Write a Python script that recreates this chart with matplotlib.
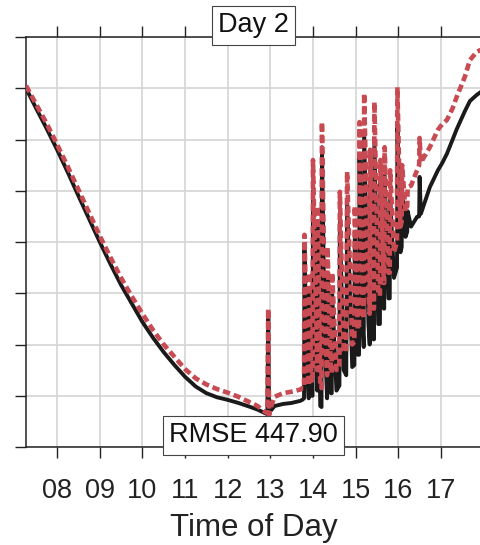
import matplotlib
matplotlib.use('Agg')
import matplotlib.pyplot as plt

# time of day (hours) and the two series
hours = [7.27, 7.5, 7.75, 8.0, 8.25, 8.5, 8.75, 9.0, 9.25, 9.5, 9.75, 10.0,
         10.25, 10.5, 10.75, 11.0, 11.25, 11.5, 11.75, 12.0, 12.25, 12.5,
         12.7, 12.85, 12.93, 12.95, 12.97, 13.0, 13.1, 13.3, 13.5, 13.7,
         13.75, 13.79, 13.80, 13.86, 13.90, 13.91, 13.96, 13.99, 14.00, 14.07,
         14.10, 14.11, 14.17, 14.20, 14.21, 14.28, 14.33, 14.34, 14.42, 14.44,
         14.45, 14.55, 14.62, 14.63, 14.72, 14.78, 14.80, 14.92, 14.97, 14.98,
         15.05, 15.08, 15.09, 15.15, 15.19, 15.20, 15.30, 15.33, 15.34, 15.42,
         15.43, 15.44, 15.53, 15.57, 15.58, 15.66, 15.67, 15.68, 15.77, 15.80,
         15.81, 15.90, 15.97, 15.98, 16.05, 16.08, 16.09, 16.17, 16.21, 16.22,
         16.30, 16.44, 16.49, 16.50, 16.53, 16.74, 16.93, 17.03, 17.14, 17.27,
         17.37, 17.56, 17.68, 17.84, 17.94]

measured = [7.0, 6.62, 6.22, 5.8, 5.36, 4.9, 4.45, 4.0, 3.57, 3.16, 2.8, 2.44,
            2.13, 1.85, 1.6, 1.37, 1.18, 1.05, 0.97, 0.92, 0.86, 0.79,
            0.73, 0.67, 0.64, 2.6, 0.66, 0.7, 0.8, 0.84, 0.86, 0.9,
            0.92, 0.95, 3.85, 1.6, 0.95, 3.0, 1.0, 1.0, 5.0, 2.2,
            1.1, 4.3, 0.8, 0.78, 5.85, 2.0, 0.95, 3.4, 1.05, 1.05,
            3.0, 1.1, 1.2, 4.4, 1.5, 1.4, 4.8, 1.56, 1.6, 4.2,
            1.8, 1.8, 5.7, 2.6, 1.95, 6.1, 2.4, 2.0, 5.2, 2.1,
            2.1, 6.0, 2.4, 2.4, 5.2, 2.7, 2.7, 5.3, 2.9, 2.9,
            4.9, 3.3, 3.5, 6.3, 3.8, 3.9, 5.0, 4.1, 4.2, 4.6,
            4.3, 4.49, 4.5, 5.27, 4.55, 5.07, 5.4, 5.54, 5.72, 5.99,
            6.2, 6.55, 6.75, 6.87, 6.93]

predicted = [7.05, 6.7, 6.32, 5.9, 5.47, 5.02, 4.57, 4.12, 3.7, 3.3, 2.94, 2.6,
             2.28, 2.0, 1.76, 1.52, 1.34, 1.22, 1.13, 1.06, 0.98, 0.88,
             0.8, 0.7, 0.66, 2.7, 0.62, 0.75, 0.98, 1.05, 1.08, 1.12,
             1.15, 1.15, 4.14, 2.0, 1.2, 3.4, 1.3, 1.25, 5.6, 2.7,
             1.5, 4.7, 1.2, 1.15, 6.34, 2.5, 1.4, 3.9, 1.45, 1.45,
             3.4, 1.5, 1.6, 4.98, 1.9, 1.85, 5.37, 2.0, 2.05, 4.7,
             2.3, 2.3, 6.34, 3.2, 2.5, 6.9, 3.0, 2.6, 5.8, 2.7,
             2.7, 6.73, 3.0, 2.95, 5.6, 3.2, 3.2, 5.85, 3.4, 3.4,
             5.4, 3.8, 4.0, 7.02, 4.3, 4.4, 5.5, 4.6, 4.7, 5.07,
             5.1, 5.4, 5.5, 6.03, 5.55, 5.85, 6.19, 6.3, 6.38, 6.6,
             6.83, 7.22, 7.55, 7.71, 7.75]

tick_hours = [8, 9, 10, 11, 12, 13, 14, 15, 16, 17]
tick_labels = ['08', '09', '10', '11', '12', '13', '14', '15', '16', '17']
y_ticks = [0, 1, 2, 3, 4, 5, 6, 7, 8]

plt.rcParams['font.family'] = ['Liberation Sans', 'DejaVu Sans']

fig = plt.figure(figsize=(4.81, 5.45), dpi=100)
ax = fig.add_axes([26 / 481, 98 / 545, 455 / 481, 410 / 545])

ax.plot(hours, measured, color='#1a1a1a', lw=2.8, zorder=3)
ax.plot(hours, predicted, color='#C84A52', lw=3.3, linestyle=(0, (1.6, 0.85)), zorder=4)

ax.set_xlim(7.27, 17.94)
ax.set_ylim(0, 8)
ax.set_xticks(tick_hours)
ax.set_xticklabels(tick_labels, fontsize=19.5, color='#222222')
ax.set_yticks(y_ticks)
ax.set_yticklabels([])
ax.grid(True, color='#d4d4d4', lw=1.2)
ax.set_axisbelow(True)

ax.tick_params(axis='both', direction='out', length=8, width=1.0, color='#222222')
ax.tick_params(axis='x', top=True, pad=14)
ax.tick_params(axis='y', right=False)
for side in ['left', 'top', 'bottom']:
    ax.spines[side].set_linewidth(1.1)
    ax.spines[side].set_color('#222222')
ax.spines['right'].set_visible(False)

ax.set_xlabel('Time of Day', fontsize=22.5, color='#222222', labelpad=7)

box = dict(facecolor='white', edgecolor='#444444', lw=0.8, boxstyle='square,pad=0.24')
ax.text(0.5, 1.029, 'Day 2', transform=ax.transAxes, ha='center', va='center',
        fontsize=19.5, color='#111111', bbox=box, zorder=10, clip_on=False)
ax.text(0.5, 0.029, 'RMSE 447.90', transform=ax.transAxes, ha='center', va='center',
        fontsize=19.5, color='#111111', bbox=box, zorder=10, clip_on=False)

plt.savefig('out.png', dpi=100)
